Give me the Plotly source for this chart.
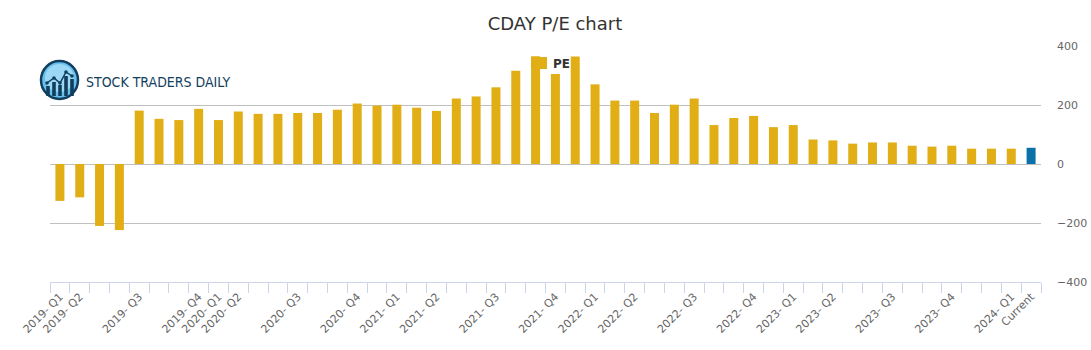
import plotly.graph_objects as go

# ---- data ----
quarter_labels = [
    "2019- Q1", "2019- Q2", "", "", "2019- Q3", "", "", "2019- Q4", "2020- Q1", "2020- Q2",
    "", "", "2020- Q3", "", "", "2020- Q4", "", "2021- Q1", "", "2021- Q2",
    "", "", "2021- Q3", "", "", "2021- Q4", "", "2022- Q1", "", "2022- Q2",
    "", "", "2022- Q3", "", "", "2022- Q4", "", "2023- Q1", "", "2023- Q2",
    "", "", "2023- Q3", "", "", "2023- Q4", "", "", "2024- Q1", "Current",
]
pe_values = [
    -125, -113, -210, -224, 181, 153, 149, 187, 149, 178,
    170, 170, 173, 173, 184, 205, 198, 201, 191, 180,
    222, 229, 260, 316, 365, 305, 364, 270, 215, 215,
    173, 201, 222, 132, 156, 163, 125, 132, 83, 80,
    69, 73, 73, 62, 59, 62, 52, 52, 52, 55,
]
y_ticks = [-400, -200, 0, 200, 400]

GOLD = "#E1AE15"
BLUE = "#0A72A8"
W, H = 1091, 350
ML, MR, MT, MB = 50, 50, 46, 68
PW, PH = W - ML - MR, H - MT - MB


def px(x):
    return (x - ML) / PW


def py(y):
    return (H - MB - y) / PH


n = len(pe_values)
xs = list(range(n))
colors = [GOLD] * (n - 1) + [BLUE]
tickvals = [i for i, t in enumerate(quarter_labels) if t]
ticktext = [t for t in quarter_labels if t]

fig = go.Figure()
fig.add_trace(go.Bar(x=xs, y=pe_values, marker=dict(color=colors, line=dict(width=0)),
                     name="PE", showlegend=False))

fig.update_layout(
    width=W, height=H,
    margin=dict(l=ML, r=MR, t=MT, b=MB),
    paper_bgcolor="white", plot_bgcolor="white",
    bargap=0.546,
    font=dict(family="DejaVu Sans", color="#666666", size=11),
    title=dict(text="CDAY P/E chart", x=555 / W, xref="container", xanchor="center",
               y=1 - 24 / H, yref="container", yanchor="middle",
               font=dict(size=18, color="#333333", family="DejaVu Sans")),
    xaxis=dict(range=[-0.5, n - 0.5], tickmode="array", tickvals=tickvals, ticktext=ticktext,
               tickangle=-45, ticks="", showgrid=False, zeroline=False, automargin=False,
               showline=True, linecolor="#ccd6eb", linewidth=1,
               ticklabelstandoff=3,
               tickfont=dict(size=11, color="#666666"),
               minor=dict(ticks="outside", ticklen=10, tickcolor="#ccd6eb", tickwidth=1,
                          tickmode="linear", tick0=-0.5, dtick=1, showgrid=False)),
    yaxis=dict(range=[-400, 400], side="right", tickmode="array", tickvals=y_ticks,
               showgrid=True, gridcolor="#c0c0c0", gridwidth=1, automargin=False,
               zeroline=True, zerolinecolor="#c0c0c0", zerolinewidth=1,
               ticks="", ticklabelstandoff=15,
               tickfont=dict(size=11, color="#666666")),
)

shapes = []
# legend symbol
shapes.append(dict(type="rect", xref="paper", yref="paper", x0=px(531), x1=px(547),
                   y0=py(69), y1=py(57), fillcolor=GOLD, line=dict(width=0), layer="above"))
# logo circle
shapes.append(dict(type="circle", xref="paper", yref="paper", x0=px(41), x1=px(78),
                   y0=py(99), y1=py(61), fillcolor="#67BFEB",
                   line=dict(color="#123E5E", width=2.5), layer="above"))
shapes.append(dict(type="circle", xref="paper", yref="paper", x0=px(45), x1=px(74),
                   y0=py(92), y1=py(64), fillcolor="#9AD8F6",
                   line=dict(width=0), layer="above"))
# logo bars
for cx, top in [(48, 86), (54, 82), (60, 85), (66, 76), (72, 79)]:
    shapes.append(dict(type="rect", xref="paper", yref="paper", x0=px(cx - 1.8), x1=px(cx + 1.8),
                       y0=py(96), y1=py(top), fillcolor="#123E5E", line=dict(width=0),
                       layer="above"))
pts = [(47, 83), (54, 78), (60, 83), (66, 72), (72, 76)]
path = "M " + " L ".join(f"{px(a)},{py(b)}" for a, b in pts)
shapes.append(dict(type="path", xref="paper", yref="paper", path=path,
                   line=dict(color="#123E5E", width=1.5), layer="above"))
for a, b in pts:
    shapes.append(dict(type="circle", xref="paper", yref="paper", x0=px(a - 1.8), x1=px(a + 1.8),
                       y0=py(b + 1.8), y1=py(b - 1.8), fillcolor="#123E5E",
                       line=dict(width=0), layer="above"))
fig.update_layout(shapes=shapes)

fig.add_annotation(text="<b>PE</b>", xref="paper", yref="paper", x=px(551), y=py(63.5),
                   xanchor="left", yanchor="middle", showarrow=False,
                   font=dict(size=12, color="#333333", family="DejaVu Sans"))
fig.add_annotation(text="STOCK TRADERS DAILY", xref="paper", yref="paper", x=px(84), y=py(81.5),
                   xanchor="left", yanchor="middle", showarrow=False,
                   font=dict(size=14, color="#123E5E",
                             family="Liberation Sans Narrow, DejaVu Sans Condensed, sans-serif"))

fig.write_html("out.html")
